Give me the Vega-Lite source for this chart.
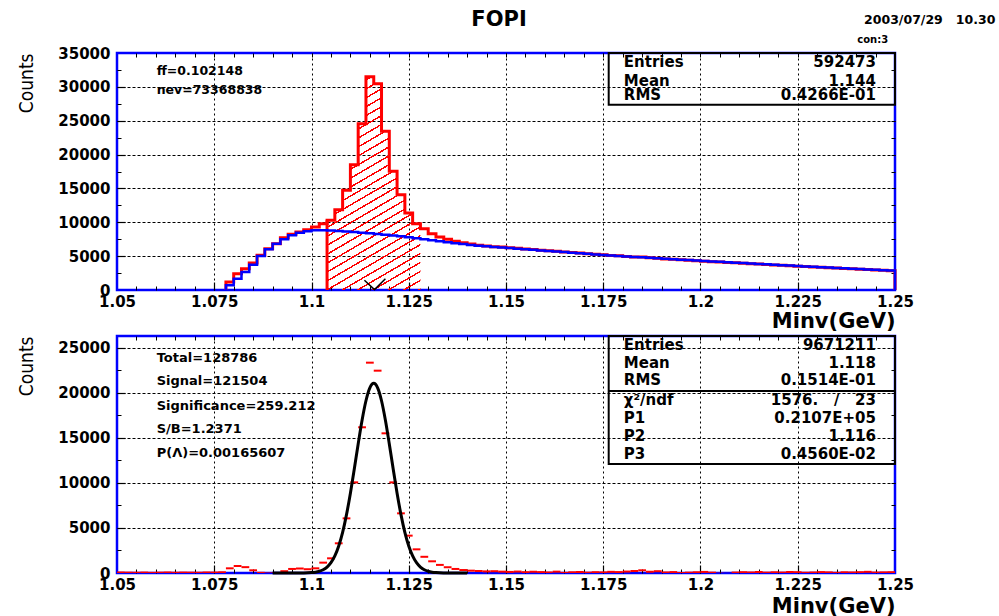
{
"$schema":"https://vega.github.io/schema/vega-lite/v6.json",
"background":"#ffffff",
"padding":{"left":16,"top":7,"right":0,"bottom":0},
"spacing":0,
"config":{
 "view":{"stroke":"#0000ff","strokeWidth":2.5},
 "axis":{"labelFont":"DejaVu Sans","labelFontWeight":"bold","labelFontSize":15,"labelColor":"#000000","titleColor":"#000000"},
 "text":{"font":"DejaVu Sans","fontWeight":"bold","color":"#000000","baseline":"middle"}
},
"datasets":{
"top":[
{"x":1.078,"red":0,"blue":0},
{"x":1.078,"red":1180,"blue":690},
{"x":1.080,"red":2410,"blue":1670},
{"x":1.082,"red":3150,"blue":2660},
{"x":1.084,"red":3990,"blue":3740},
{"x":1.086,"red":5120,"blue":5020},
{"x":1.088,"red":6100,"blue":6000},
{"x":1.090,"red":6840,"blue":6840},
{"x":1.092,"red":7730,"blue":7480},
{"x":1.094,"red":8220,"blue":8080},
{"x":1.096,"red":8570,"blue":8470},
{"x":1.098,"red":8900,"blue":8670},
{"x":1.100,"red":9300,"blue":8820},
{"x":1.102,"red":9790,"blue":8840},
{"x":1.104,"red":10290,"blue":8790},
{"x":1.106,"red":11860,"blue":8720},
{"x":1.108,"red":14720,"blue":8640},
{"x":1.110,"red":18500,"blue":8560},
{"x":1.112,"red":24560,"blue":8470},
{"x":1.114,"red":31500,"blue":8380},
{"x":1.116,"red":30470,"blue":8280},
{"x":1.118,"red":23430,"blue":8170},
{"x":1.120,"red":17520,"blue":8050},
{"x":1.122,"red":14080,"blue":7920},
{"x":1.124,"red":11370,"blue":7790},
{"x":1.126,"red":9790,"blue":7650},
{"x":1.128,"red":9050,"blue":7500},
{"x":1.130,"red":8320,"blue":7350},
{"x":1.132,"red":7830,"blue":7200},
{"x":1.134,"red":7490,"blue":7050},
{"x":1.136,"red":7200,"blue":6910},
{"x":1.138,"red":6990,"blue":6780},
{"x":1.140,"red":6800,"blue":6660},
{"x":1.142,"red":6600,"blue":6550},
{"x":1.144,"red":6500,"blue":6450},
{"x":1.146,"red":6400,"blue":6360},
{"x":1.148,"red":6350,"blue":6280},
{"x":1.150,"red":6250,"blue":6200},
{"x":1.152,"red":6150,"blue":6110},
{"x":1.154,"red":6060,"blue":6020},
{"x":1.156,"red":5990,"blue":5940},
{"x":1.158,"red":5880,"blue":5850},
{"x":1.160,"red":5800,"blue":5770},
{"x":1.162,"red":5720,"blue":5680},
{"x":1.164,"red":5610,"blue":5600},
{"x":1.166,"red":5540,"blue":5510},
{"x":1.168,"red":5460,"blue":5430},
{"x":1.170,"red":5350,"blue":5340},
{"x":1.172,"red":5280,"blue":5260},
{"x":1.174,"red":5190,"blue":5170},
{"x":1.176,"red":5080,"blue":5090},
{"x":1.178,"red":5040,"blue":5020},
{"x":1.180,"red":4960,"blue":4950},
{"x":1.182,"red":4880,"blue":4890},
{"x":1.184,"red":4870,"blue":4820},
{"x":1.186,"red":4780,"blue":4750},
{"x":1.188,"red":4700,"blue":4690},
{"x":1.190,"red":4580,"blue":4620},
{"x":1.192,"red":4540,"blue":4550},
{"x":1.194,"red":4470,"blue":4480},
{"x":1.196,"red":4380,"blue":4420},
{"x":1.198,"red":4320,"blue":4350},
{"x":1.200,"red":4260,"blue":4280},
{"x":1.202,"red":4180,"blue":4220},
{"x":1.204,"red":4130,"blue":4160},
{"x":1.206,"red":4060,"blue":4100},
{"x":1.208,"red":4020,"blue":4030},
{"x":1.210,"red":3950,"blue":3970},
{"x":1.212,"red":3860,"blue":3910},
{"x":1.214,"red":3830,"blue":3850},
{"x":1.216,"red":3760,"blue":3790},
{"x":1.218,"red":3690,"blue":3720},
{"x":1.220,"red":3640,"blue":3660},
{"x":1.222,"red":3570,"blue":3600},
{"x":1.224,"red":3520,"blue":3540},
{"x":1.226,"red":3460,"blue":3480},
{"x":1.228,"red":3390,"blue":3420},
{"x":1.230,"red":3350,"blue":3370},
{"x":1.232,"red":3300,"blue":3310},
{"x":1.234,"red":3240,"blue":3260},
{"x":1.236,"red":3190,"blue":3200},
{"x":1.238,"red":3130,"blue":3150},
{"x":1.240,"red":3080,"blue":3090},
{"x":1.242,"red":3010,"blue":3040},
{"x":1.244,"red":2960,"blue":2980},
{"x":1.246,"red":2910,"blue":2930},
{"x":1.248,"red":2850,"blue":2870},
{"x":1.250,"red":2850,"blue":2870},
{"x":1.250,"red":0,"blue":0}
],
"pts":[
{"lo":1.050,"hi":1.052,"c":60},{"lo":1.052,"hi":1.054,"c":40},{"lo":1.054,"hi":1.056,"c":30},{"lo":1.056,"hi":1.058,"c":50},
{"lo":1.058,"hi":1.060,"c":20},{"lo":1.060,"hi":1.062,"c":40},{"lo":1.062,"hi":1.064,"c":60},{"lo":1.064,"hi":1.066,"c":30},
{"lo":1.066,"hi":1.068,"c":50},{"lo":1.068,"hi":1.070,"c":40},{"lo":1.070,"hi":1.072,"c":30},{"lo":1.072,"hi":1.074,"c":60},
{"lo":1.074,"hi":1.076,"c":50},{"lo":1.076,"hi":1.078,"c":80},{"lo":1.078,"hi":1.080,"c":520},{"lo":1.080,"hi":1.082,"c":780},
{"lo":1.082,"hi":1.084,"c":650},{"lo":1.084,"hi":1.086,"c":300},{"lo":1.086,"hi":1.088,"c":20},{"lo":1.088,"hi":1.090,"c":-60},
{"lo":1.090,"hi":1.092,"c":0},{"lo":1.092,"hi":1.094,"c":200},{"lo":1.094,"hi":1.096,"c":450},{"lo":1.096,"hi":1.098,"c":500},
{"lo":1.098,"hi":1.100,"c":420},{"lo":1.100,"hi":1.102,"c":520},{"lo":1.102,"hi":1.104,"c":1150},{"lo":1.104,"hi":1.106,"c":1630},
{"lo":1.106,"hi":1.108,"c":3300},{"lo":1.108,"hi":1.110,"c":6070},{"lo":1.110,"hi":1.112,"c":10070},{"lo":1.112,"hi":1.114,"c":16190},
{"lo":1.114,"hi":1.116,"c":23370},{"lo":1.116,"hi":1.118,"c":22480},{"lo":1.118,"hi":1.120,"c":15520},{"lo":1.120,"hi":1.122,"c":10070},
{"lo":1.122,"hi":1.124,"c":6630},{"lo":1.124,"hi":1.126,"c":4150},{"lo":1.126,"hi":1.128,"c":2630},{"lo":1.128,"hi":1.130,"c":1800},
{"lo":1.130,"hi":1.132,"c":1300},{"lo":1.132,"hi":1.134,"c":900},{"lo":1.134,"hi":1.136,"c":640},{"lo":1.136,"hi":1.138,"c":450},
{"lo":1.138,"hi":1.140,"c":330},{"lo":1.140,"hi":1.142,"c":260},{"lo":1.142,"hi":1.144,"c":220},{"lo":1.144,"hi":1.146,"c":180},
{"lo":1.146,"hi":1.148,"c":200},{"lo":1.148,"hi":1.150,"c":150},{"lo":1.150,"hi":1.152,"c":120},{"lo":1.152,"hi":1.154,"c":160},
{"lo":1.154,"hi":1.156,"c":90},{"lo":1.156,"hi":1.158,"c":140},{"lo":1.158,"hi":1.160,"c":100},{"lo":1.160,"hi":1.162,"c":60},
{"lo":1.162,"hi":1.164,"c":150},{"lo":1.164,"hi":1.166,"c":20},{"lo":1.166,"hi":1.168,"c":80},{"lo":1.168,"hi":1.170,"c":110},
{"lo":1.170,"hi":1.172,"c":40},{"lo":1.172,"hi":1.174,"c":90},{"lo":1.174,"hi":1.176,"c":70},{"lo":1.176,"hi":1.178,"c":130},
{"lo":1.178,"hi":1.180,"c":100},{"lo":1.180,"hi":1.182,"c":160},{"lo":1.182,"hi":1.184,"c":220},{"lo":1.184,"hi":1.186,"c":300},
{"lo":1.186,"hi":1.188,"c":140},{"lo":1.188,"hi":1.190,"c":200},{"lo":1.190,"hi":1.192,"c":60},{"lo":1.192,"hi":1.194,"c":100},
{"lo":1.194,"hi":1.196,"c":0},{"lo":1.196,"hi":1.198,"c":40},{"lo":1.198,"hi":1.200,"c":80},{"lo":1.200,"hi":1.202,"c":120},
{"lo":1.202,"hi":1.204,"c":40},{"lo":1.204,"hi":1.206,"c":-80},{"lo":1.206,"hi":1.208,"c":-100},{"lo":1.208,"hi":1.210,"c":50},
{"lo":1.210,"hi":1.212,"c":90},{"lo":1.212,"hi":1.214,"c":60},{"lo":1.214,"hi":1.216,"c":110},{"lo":1.216,"hi":1.218,"c":40},
{"lo":1.218,"hi":1.220,"c":80},{"lo":1.220,"hi":1.222,"c":50},{"lo":1.222,"hi":1.224,"c":110},{"lo":1.224,"hi":1.226,"c":90},
{"lo":1.226,"hi":1.228,"c":30},{"lo":1.228,"hi":1.230,"c":60},{"lo":1.230,"hi":1.232,"c":100},{"lo":1.232,"hi":1.234,"c":70},
{"lo":1.234,"hi":1.236,"c":20},{"lo":1.236,"hi":1.238,"c":80},{"lo":1.238,"hi":1.240,"c":60},{"lo":1.240,"hi":1.242,"c":90},
{"lo":1.242,"hi":1.244,"c":130},{"lo":1.244,"hi":1.246,"c":50},{"lo":1.246,"hi":1.248,"c":70},{"lo":1.248,"hi":1.250,"c":90}
],
"fit":[
{"x":1.090,"g":0},{"x":1.091,"g":0},{"x":1.092,"g":0},{"x":1.093,"g":0},{"x":1.094,"g":0.2},{"x":1.095,"g":0.5},
{"x":1.096,"g":1.4},{"x":1.097,"g":3.6},{"x":1.098,"g":8.7},{"x":1.099,"g":20},{"x":1.100,"g":45},{"x":1.101,"g":94},
{"x":1.102,"g":189},{"x":1.103,"g":362},{"x":1.104,"g":661},{"x":1.105,"g":1148},{"x":1.106,"g":1902},{"x":1.107,"g":3004},
{"x":1.108,"g":4521},{"x":1.109,"g":6486},{"x":1.110,"g":8866},{"x":1.111,"g":11550},{"x":1.112,"g":14341},{"x":1.113,"g":16970},
{"x":1.114,"g":19138},{"x":1.115,"g":20569},{"x":1.116,"g":21070},{"x":1.117,"g":20569},{"x":1.118,"g":19138},{"x":1.119,"g":16970},
{"x":1.120,"g":14341},{"x":1.121,"g":11550},{"x":1.122,"g":8866},{"x":1.123,"g":6486},{"x":1.124,"g":4521},{"x":1.125,"g":3004},
{"x":1.126,"g":1902},{"x":1.127,"g":1148},{"x":1.128,"g":661},{"x":1.129,"g":362},{"x":1.130,"g":189},{"x":1.131,"g":94},
{"x":1.132,"g":45},{"x":1.133,"g":20},{"x":1.134,"g":9},{"x":1.135,"g":4},{"x":1.136,"g":1.4},{"x":1.137,"g":0.5},
{"x":1.138,"g":0.2},{"x":1.139,"g":0},{"x":1.140,"g":0}
]
},
"vconcat":[
{
 "width":778,"height":237,
 "resolve":{"axis":{"x":"independent","y":"independent"}},
 "layer":[
  {"data":{"name":"top"},
   "transform":[{"filter":"datum.x >= 1.104 && datum.x <= 1.128"}],
   "mark":{"type":"area","interpolate":"step-after","fillOpacity":1,"fill":{"gradient":"linear","x1":0,"y1":0,"x2":0.2997,"y2":1.1782,"stops":[
{"offset":0,"color":"rgba(255,0,0,0)"},{"offset":0.027,"color":"rgba(255,0,0,0)"},{"offset":0.027,"color":"#ff0000"},{"offset":0.0333,"color":"#ff0000"},
{"offset":0.0333,"color":"rgba(255,0,0,0)"},{"offset":0.0603,"color":"rgba(255,0,0,0)"},{"offset":0.0603,"color":"#ff0000"},{"offset":0.0667,"color":"#ff0000"},
{"offset":0.0667,"color":"rgba(255,0,0,0)"},{"offset":0.0937,"color":"rgba(255,0,0,0)"},{"offset":0.0937,"color":"#ff0000"},{"offset":0.1,"color":"#ff0000"},
{"offset":0.1,"color":"rgba(255,0,0,0)"},{"offset":0.127,"color":"rgba(255,0,0,0)"},{"offset":0.127,"color":"#ff0000"},{"offset":0.1333,"color":"#ff0000"},
{"offset":0.1333,"color":"rgba(255,0,0,0)"},{"offset":0.1603,"color":"rgba(255,0,0,0)"},{"offset":0.1603,"color":"#ff0000"},{"offset":0.1667,"color":"#ff0000"},
{"offset":0.1667,"color":"rgba(255,0,0,0)"},{"offset":0.1937,"color":"rgba(255,0,0,0)"},{"offset":0.1937,"color":"#ff0000"},{"offset":0.2,"color":"#ff0000"},
{"offset":0.2,"color":"rgba(255,0,0,0)"},{"offset":0.227,"color":"rgba(255,0,0,0)"},{"offset":0.227,"color":"#ff0000"},{"offset":0.2333,"color":"#ff0000"},
{"offset":0.2333,"color":"rgba(255,0,0,0)"},{"offset":0.2603,"color":"rgba(255,0,0,0)"},{"offset":0.2603,"color":"#ff0000"},{"offset":0.2667,"color":"#ff0000"},
{"offset":0.2667,"color":"rgba(255,0,0,0)"},{"offset":0.2937,"color":"rgba(255,0,0,0)"},{"offset":0.2937,"color":"#ff0000"},{"offset":0.3,"color":"#ff0000"},
{"offset":0.3,"color":"rgba(255,0,0,0)"},{"offset":0.327,"color":"rgba(255,0,0,0)"},{"offset":0.327,"color":"#ff0000"},{"offset":0.3333,"color":"#ff0000"},
{"offset":0.3333,"color":"rgba(255,0,0,0)"},{"offset":0.3603,"color":"rgba(255,0,0,0)"},{"offset":0.3603,"color":"#ff0000"},{"offset":0.3667,"color":"#ff0000"},
{"offset":0.3667,"color":"rgba(255,0,0,0)"},{"offset":0.3937,"color":"rgba(255,0,0,0)"},{"offset":0.3937,"color":"#ff0000"},{"offset":0.4,"color":"#ff0000"},
{"offset":0.4,"color":"rgba(255,0,0,0)"},{"offset":0.427,"color":"rgba(255,0,0,0)"},{"offset":0.427,"color":"#ff0000"},{"offset":0.4333,"color":"#ff0000"},
{"offset":0.4333,"color":"rgba(255,0,0,0)"},{"offset":0.4603,"color":"rgba(255,0,0,0)"},{"offset":0.4603,"color":"#ff0000"},{"offset":0.4667,"color":"#ff0000"},
{"offset":0.4667,"color":"rgba(255,0,0,0)"},{"offset":0.4937,"color":"rgba(255,0,0,0)"},{"offset":0.4937,"color":"#ff0000"},{"offset":0.5,"color":"#ff0000"},
{"offset":0.5,"color":"rgba(255,0,0,0)"},{"offset":0.527,"color":"rgba(255,0,0,0)"},{"offset":0.527,"color":"#ff0000"},{"offset":0.5333,"color":"#ff0000"},
{"offset":0.5333,"color":"rgba(255,0,0,0)"},{"offset":0.5603,"color":"rgba(255,0,0,0)"},{"offset":0.5603,"color":"#ff0000"},{"offset":0.5667,"color":"#ff0000"},
{"offset":0.5667,"color":"rgba(255,0,0,0)"},{"offset":0.5937,"color":"rgba(255,0,0,0)"},{"offset":0.5937,"color":"#ff0000"},{"offset":0.6,"color":"#ff0000"},
{"offset":0.6,"color":"rgba(255,0,0,0)"},{"offset":0.627,"color":"rgba(255,0,0,0)"},{"offset":0.627,"color":"#ff0000"},{"offset":0.6333,"color":"#ff0000"},
{"offset":0.6333,"color":"rgba(255,0,0,0)"},{"offset":0.6603,"color":"rgba(255,0,0,0)"},{"offset":0.6603,"color":"#ff0000"},{"offset":0.6667,"color":"#ff0000"},
{"offset":0.6667,"color":"rgba(255,0,0,0)"},{"offset":0.6937,"color":"rgba(255,0,0,0)"},{"offset":0.6937,"color":"#ff0000"},{"offset":0.7,"color":"#ff0000"},
{"offset":0.7,"color":"rgba(255,0,0,0)"},{"offset":0.727,"color":"rgba(255,0,0,0)"},{"offset":0.727,"color":"#ff0000"},{"offset":0.7333,"color":"#ff0000"},
{"offset":0.7333,"color":"rgba(255,0,0,0)"},{"offset":0.7603,"color":"rgba(255,0,0,0)"},{"offset":0.7603,"color":"#ff0000"},{"offset":0.7667,"color":"#ff0000"},
{"offset":0.7667,"color":"rgba(255,0,0,0)"},{"offset":0.7937,"color":"rgba(255,0,0,0)"},{"offset":0.7937,"color":"#ff0000"},{"offset":0.8,"color":"#ff0000"},
{"offset":0.8,"color":"rgba(255,0,0,0)"},{"offset":0.827,"color":"rgba(255,0,0,0)"},{"offset":0.827,"color":"#ff0000"},{"offset":0.8333,"color":"#ff0000"},
{"offset":0.8333,"color":"rgba(255,0,0,0)"},{"offset":0.8603,"color":"rgba(255,0,0,0)"},{"offset":0.8603,"color":"#ff0000"},{"offset":0.8667,"color":"#ff0000"},
{"offset":0.8667,"color":"rgba(255,0,0,0)"},{"offset":0.8937,"color":"rgba(255,0,0,0)"},{"offset":0.8937,"color":"#ff0000"},{"offset":0.9,"color":"#ff0000"},
{"offset":0.9,"color":"rgba(255,0,0,0)"},{"offset":0.927,"color":"rgba(255,0,0,0)"},{"offset":0.927,"color":"#ff0000"},{"offset":0.9333,"color":"#ff0000"},
{"offset":0.9333,"color":"rgba(255,0,0,0)"},{"offset":0.9603,"color":"rgba(255,0,0,0)"},{"offset":0.9603,"color":"#ff0000"},{"offset":0.9667,"color":"#ff0000"},
{"offset":0.9667,"color":"rgba(255,0,0,0)"},{"offset":0.9937,"color":"rgba(255,0,0,0)"},{"offset":0.9937,"color":"#ff0000"},{"offset":1,"color":"#ff0000"}
]}},
   "encoding":{
    "x":{"field":"x","type":"quantitative","scale":{"domain":[1.05,1.25],"nice":false,"zero":false},
         "axis":{"orient":"bottom","values":[1.055,1.06,1.065,1.07,1.08,1.085,1.09,1.095,1.105,1.11,1.115,1.12,1.13,1.135,1.14,1.145,1.155,1.16,1.165,1.17,1.18,1.185,1.19,1.195,1.205,1.21,1.215,1.22,1.23,1.235,1.24,1.245],"labels":false,"domain":false,"ticks":true,"tickSize":-4,"tickColor":"#000000","grid":false,"title":null,"minExtent":0,"maxExtent":0}},
    "y":{"field":"red","type":"quantitative","scale":{"domain":[0,35000],"nice":false,"zero":false},
         "axis":{"orient":"left","values":[2500,7500,12500,17500,22500,27500,32500],"labels":false,"domain":false,"ticks":true,"tickSize":-4,"tickColor":"#000000","grid":false,"title":null,"minExtent":0,"maxExtent":0}}
   }},
  {"data":{"values":[{}]},
   "mark":{"type":"rule","color":"#ff0000","strokeWidth":3},
   "encoding":{
    "x":{"datum":1.104,"type":"quantitative","scale":{"domain":[1.05,1.25],"nice":false,"zero":false},
         "axis":{"orient":"top","values":[1.055,1.06,1.065,1.07,1.075,1.08,1.085,1.09,1.095,1.1,1.105,1.11,1.115,1.12,1.125,1.13,1.135,1.14,1.145,1.15,1.155,1.16,1.165,1.17,1.175,1.18,1.185,1.19,1.195,1.2,1.205,1.21,1.215,1.22,1.225,1.23,1.235,1.24,1.245],"labels":false,"domain":false,"ticks":true,"tickSize":-4,"tickColor":"#000000","grid":false,"title":null,"minExtent":0,"maxExtent":0}},
    "y":{"datum":0,"type":"quantitative","scale":{"domain":[0,35000],"nice":false,"zero":false},
         "axis":{"orient":"right","values":[2500,5000,7500,10000,12500,15000,17500,20000,22500,25000,27500,30000,32500],"labels":false,"domain":false,"ticks":true,"tickSize":-4,"tickColor":"#000000","grid":false,"title":null,"minExtent":0,"maxExtent":0}},
    "y2":{"datum":10290}
   }},
  {"data":{"name":"top"},
   "mark":{"type":"line","interpolate":"step-after","color":"#ff0000","strokeWidth":3},
   "encoding":{
    "x":{"field":"x","type":"quantitative","scale":{"domain":[1.05,1.25],"nice":false,"zero":false},
         "axis":{"orient":"bottom","values":[1.075,1.1,1.125,1.15,1.175,1.2,1.225],"labels":false,"domain":false,"ticks":true,"tickSize":-8,"tickColor":"#000000","tickWidth":1.2,"grid":true,"gridColor":"#000000","gridDash":[2,3],"gridWidth":1,"gridOpacity":1,"title":null,"minExtent":0,"maxExtent":0}},
    "y":{"field":"red","type":"quantitative","scale":{"domain":[0,35000],"nice":false,"zero":false},
         "axis":{"orient":"left","values":[5000,10000,15000,20000,25000,30000],"labels":false,"domain":false,"ticks":true,"tickSize":-8,"tickColor":"#000000","tickWidth":1.2,"grid":true,"gridColor":"#000000","gridDash":[3,2],"gridWidth":1,"gridOpacity":1,"title":null,"minExtent":0,"maxExtent":0}}
   }},
  {"data":{"name":"top"},
   "mark":{"type":"line","interpolate":"step-after","color":"#0000ff","strokeWidth":2.5},
   "encoding":{
    "x":{"field":"x","type":"quantitative","scale":{"domain":[1.05,1.25],"nice":false,"zero":false},
         "axis":{"orient":"bottom","values":[1.05,1.075,1.1,1.125,1.15,1.175,1.2,1.225,1.25],"format":".4~g","labelFlush":false,"labelOverlap":false,"labelPadding":4,"ticks":false,"grid":false,"domain":false,"title":"Minv(GeV)","titleAnchor":"end","titleAlign":"right","titleFont":"DejaVu Sans","titleFontSize":21,"titleFontWeight":"bold","titlePadding":1}},
    "y":{"field":"blue","type":"quantitative","scale":{"domain":[0,35000],"nice":false,"zero":false},
         "axis":{"orient":"left","values":[0,5000,10000,15000,20000,25000,30000,35000],"format":"d","labelFlush":false,"labelOverlap":false,"labelPadding":7,"ticks":false,"grid":false,"domain":false,"title":"Counts","titleAnchor":"end","titleAlign":"right","titleAngle":-90,"titleFont":"DejaVu Sans Condensed, Liberation Sans, sans-serif","titleFontSize":19,"titleFontWeight":"normal","titlePadding":21}}
   }},
  {"data":{"values":[{"x":1.1136,"y":1430},{"x":1.1162,"y":60},{"x":1.119,"y":1670}]},
   "mark":{"type":"line","color":"#000000","strokeWidth":1.5},
   "encoding":{
    "x":{"field":"x","type":"quantitative","scale":{"domain":[1.05,1.25],"nice":false,"zero":false},"axis":null},
    "y":{"field":"y","type":"quantitative","scale":{"domain":[0,35000],"nice":false,"zero":false},"axis":null}
   }},
  {"data":{"values":[{"x":1.14821,"y":39873,"t":"FOPI"}]},
   "mark":{"type":"text","fontSize":21,"align":"center"},
   "encoding":{
    "x":{"field":"x","type":"quantitative","scale":{"domain":[1.05,1.25],"nice":false,"zero":false},"axis":null},
    "y":{"field":"y","type":"quantitative","scale":{"domain":[0,35000],"nice":false,"zero":false},"axis":null},
    "text":{"field":"t"}
   }},
  {"data":{"values":[{"x":1.24205,"y":39900,"t":"2003/07/29\u00a0\u00a0\u00a010.30"}]},
   "mark":{"type":"text","fontSize":12.5,"align":"left"},
   "encoding":{
    "x":{"field":"x","type":"quantitative","scale":{"domain":[1.05,1.25],"nice":false,"zero":false},"axis":null},
    "y":{"field":"y","type":"quantitative","scale":{"domain":[0,35000],"nice":false,"zero":false},"axis":null},
    "text":{"field":"t"}
   }},
  {"data":{"values":[{"x":1.2403,"y":36920,"t":"con:3"}]},
   "mark":{"type":"text","fontSize":10,"align":"left"},
   "encoding":{
    "x":{"field":"x","type":"quantitative","scale":{"domain":[1.05,1.25],"nice":false,"zero":false},"axis":null},
    "y":{"field":"y","type":"quantitative","scale":{"domain":[0,35000],"nice":false,"zero":false},"axis":null},
    "text":{"field":"t"}
   }},
  {"data":{"values":[{"x":1.0602,"y":32342,"t":"ff=0.102148"},{"x":1.0602,"y":29536,"t":"nev=73368838"}]},
   "mark":{"type":"text","fontSize":12.5,"align":"left"},
   "encoding":{
    "x":{"field":"x","type":"quantitative","scale":{"domain":[1.05,1.25],"nice":false,"zero":false},"axis":null},
    "y":{"field":"y","type":"quantitative","scale":{"domain":[0,35000],"nice":false,"zero":false},"axis":null},
    "text":{"field":"t"}
   }},
  {"data":{"values":[{}]},
   "mark":{"type":"rect","fill":null,"stroke":"#000000","strokeWidth":2},
   "encoding":{
    "x":{"datum":1.1764,"type":"quantitative","scale":{"domain":[1.05,1.25],"nice":false,"zero":false},"axis":null},
    "x2":{"datum":1.25},
    "y":{"datum":27365,"type":"quantitative","scale":{"domain":[0,35000],"nice":false,"zero":false},"axis":null},
    "y2":{"datum":35000}
   }},
  {"data":{"values":[{"l":"Entries","v":"592473","y":33671},{"l":"Mean","v":"1.144","y":30821},{"l":"RMS","v":"0.4266E-01","y":28753}]},
   "layer":[
    {"mark":{"type":"text","fontSize":15,"align":"left"},
     "encoding":{
      "x":{"datum":1.1803,"type":"quantitative","scale":{"domain":[1.05,1.25],"nice":false,"zero":false},"axis":null},
      "y":{"field":"y","type":"quantitative","scale":{"domain":[0,35000],"nice":false,"zero":false},"axis":null},
      "text":{"field":"l"}}},
    {"mark":{"type":"text","fontSize":15,"align":"right"},
     "encoding":{
      "x":{"datum":1.2451,"type":"quantitative","scale":{"domain":[1.05,1.25],"nice":false,"zero":false},"axis":null},
      "y":{"field":"y","type":"quantitative","scale":{"domain":[0,35000],"nice":false,"zero":false},"axis":null},
      "text":{"field":"v"}}}
   ]}
 ]
},
{
 "width":778,"height":237,
 "resolve":{"axis":{"x":"independent","y":"independent"}},
 "layer":[
  {"data":{"name":"pts"},
   "mark":{"type":"rule","color":"#ff0000","strokeWidth":2,"clip":true},
   "encoding":{
    "x":{"field":"lo","type":"quantitative","scale":{"domain":[1.05,1.25],"nice":false,"zero":false},
         "axis":{"orient":"bottom","values":[1.05,1.075,1.1,1.125,1.15,1.175,1.2,1.225,1.25],"format":".4~g","labelFlush":false,"labelOverlap":false,"labelPadding":4,"ticks":false,"grid":false,"domain":false,"title":"Minv(GeV)","titleAnchor":"end","titleAlign":"right","titleFont":"DejaVu Sans","titleFontSize":21,"titleFontWeight":"bold","titlePadding":3}},
    "x2":{"field":"hi"},
    "y":{"field":"c","type":"quantitative","scale":{"domain":[0,26333],"nice":false,"zero":false},
         "axis":{"orient":"left","values":[0,5000,10000,15000,20000,25000],"format":"d","labelFlush":false,"labelOverlap":false,"labelPadding":7,"ticks":false,"grid":false,"domain":false,"title":"Counts","titleAnchor":"end","titleAlign":"right","titleAngle":-90,"titleFont":"DejaVu Sans Condensed, Liberation Sans, sans-serif","titleFontSize":19,"titleFontWeight":"normal","titlePadding":21}}
   }},
  {"data":{"name":"fit"},
   "mark":{"type":"line","interpolate":"monotone","color":"#000000","strokeWidth":3},
   "encoding":{
    "x":{"field":"x","type":"quantitative","scale":{"domain":[1.05,1.25],"nice":false,"zero":false},
         "axis":{"orient":"bottom","values":[1.075,1.1,1.125,1.15,1.175,1.2,1.225],"labels":false,"domain":false,"ticks":true,"tickSize":-8,"tickColor":"#000000","tickWidth":1.2,"grid":true,"gridColor":"#000000","gridDash":[2,3],"gridWidth":1,"gridOpacity":1,"title":null,"minExtent":0,"maxExtent":0}},
    "y":{"field":"g","type":"quantitative","scale":{"domain":[0,26333],"nice":false,"zero":false},
         "axis":{"orient":"left","values":[5000,10000,15000,20000,25000],"labels":false,"domain":false,"ticks":true,"tickSize":-8,"tickColor":"#000000","tickWidth":1.2,"grid":true,"gridColor":"#000000","gridDash":[3,2],"gridWidth":1,"gridOpacity":1,"title":null,"minExtent":0,"maxExtent":0}}
   }},
  {"data":{"values":[{"x":1.0602,"y":23856,"t":"Total=128786"},{"x":1.0602,"y":21333,"t":"Signal=121504"},{"x":1.0602,"y":18556,"t":"Significance=259.212"},{"x":1.0602,"y":16000,"t":"S/B=1.2371"},{"x":1.0602,"y":13333,"t":"P(Λ)=0.00165607"}]},
   "mark":{"type":"text","fontSize":13,"align":"left"},
   "encoding":{
    "x":{"field":"x","type":"quantitative","scale":{"domain":[1.05,1.25],"nice":false,"zero":false},
         "axis":{"orient":"bottom","values":[1.055,1.06,1.065,1.07,1.08,1.085,1.09,1.095,1.105,1.11,1.115,1.12,1.13,1.135,1.14,1.145,1.155,1.16,1.165,1.17,1.18,1.185,1.19,1.195,1.205,1.21,1.215,1.22,1.23,1.235,1.24,1.245],"labels":false,"domain":false,"ticks":true,"tickSize":-4,"tickColor":"#000000","grid":false,"title":null,"minExtent":0,"maxExtent":0}},
    "y":{"field":"y","type":"quantitative","scale":{"domain":[0,26333],"nice":false,"zero":false},
         "axis":{"orient":"left","values":[2500,7500,12500,17500,22500],"labels":false,"domain":false,"ticks":true,"tickSize":-4,"tickColor":"#000000","grid":false,"title":null,"minExtent":0,"maxExtent":0}},
    "text":{"field":"t"}
   }},
  {"data":{"values":[{}]},
   "mark":{"type":"rect","fill":null,"stroke":"#000000","strokeWidth":2},
   "encoding":{
    "x":{"datum":1.1764,"type":"quantitative","scale":{"domain":[1.05,1.25],"nice":false,"zero":false},
         "axis":{"orient":"top","values":[1.055,1.06,1.065,1.07,1.075,1.08,1.085,1.09,1.095,1.1,1.105,1.11,1.115,1.12,1.125,1.13,1.135,1.14,1.145,1.15,1.155,1.16,1.165,1.17,1.175,1.18,1.185,1.19,1.195,1.2,1.205,1.21,1.215,1.22,1.225,1.23,1.235,1.24,1.245],"labels":false,"domain":false,"ticks":true,"tickSize":-4,"tickColor":"#000000","grid":false,"title":null,"minExtent":0,"maxExtent":0}},
    "x2":{"datum":1.25},
    "y":{"datum":12111,"type":"quantitative","scale":{"domain":[0,26333],"nice":false,"zero":false},
         "axis":{"orient":"right","values":[2500,5000,7500,10000,12500,15000,17500,20000,22500,25000],"labels":false,"domain":false,"ticks":true,"tickSize":-4,"tickColor":"#000000","grid":false,"title":null,"minExtent":0,"maxExtent":0}},
    "y2":{"datum":26333}
   }},
  {"data":{"values":[{}]},
   "mark":{"type":"rule","color":"#000000","strokeWidth":2},
   "encoding":{
    "x":{"datum":1.1764,"type":"quantitative","scale":{"domain":[1.05,1.25],"nice":false,"zero":false},"axis":null},
    "x2":{"datum":1.25},
    "y":{"datum":20222,"type":"quantitative","scale":{"domain":[0,26333],"nice":false,"zero":false},"axis":null}
   }},
  {"data":{"values":[{"l":"Entries","v":"9671211","y":25333},{"l":"Mean","v":"1.118","y":23300},{"l":"RMS","v":"0.1514E-01","y":21444},{"l":"χ²/ndf","v":"1576.\u00a0\u00a0\u00a0/\u00a0\u00a0\u00a023","y":19222},{"l":"P1","v":"0.2107E+05","y":17189},{"l":"P2","v":"1.116","y":15222},{"l":"P3","v":"0.4560E-02","y":13222}]},
   "layer":[
    {"mark":{"type":"text","fontSize":15,"align":"left"},
     "encoding":{
      "x":{"datum":1.1803,"type":"quantitative","scale":{"domain":[1.05,1.25],"nice":false,"zero":false},"axis":null},
      "y":{"field":"y","type":"quantitative","scale":{"domain":[0,26333],"nice":false,"zero":false},"axis":null},
      "text":{"field":"l"}}},
    {"mark":{"type":"text","fontSize":15,"align":"right"},
     "encoding":{
      "x":{"datum":1.2451,"type":"quantitative","scale":{"domain":[1.05,1.25],"nice":false,"zero":false},"axis":null},
      "y":{"field":"y","type":"quantitative","scale":{"domain":[0,26333],"nice":false,"zero":false},"axis":null},
      "text":{"field":"v"}}}
   ]}
 ]
}
]
}
